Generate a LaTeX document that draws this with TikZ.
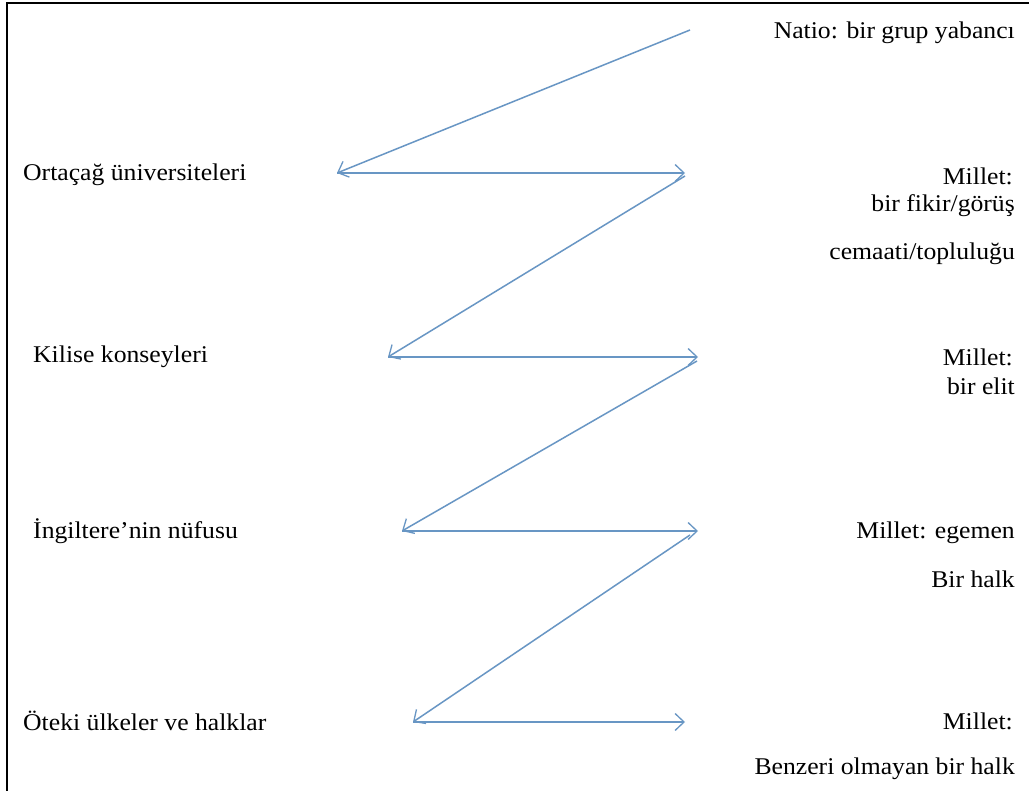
\documentclass[tikz,border=0pt]{standalone}
\usepackage{fontspec}
\setmainfont{Liberation Serif}
\usetikzlibrary{arrows.meta}
\definecolor{flow}{RGB}{104,150,196}
\newcommand{\wtxt}[1]{\scalebox{1.07}[1]{#1}}
\tikzset{
  lbl/.style={inner sep=0pt, font=\fontsize{24}{28}\selectfont},
  lleft/.style={lbl, anchor=west},
  lright/.style={lbl, anchor=east},
  flowline/.style={draw=flow, line width=1.5pt, -{Straight Barb[length=9pt,width=17pt,line width=1.3pt]}}
}
\begin{document}
\begin{tikzpicture}[x=1pt,y=-1pt]
\useasboundingbox (0,0) rectangle (1029,791);
\fill[white] (0,0) rectangle (1029,791);
% frame (top and left edges)
\draw[line width=2pt] (1029,3) -- (7,3) -- (7,791);

% left column
\node[lleft] (ort) at (23,175) {\wtxt{Ortaçağ üniversiteleri}};
\node[lleft] (kil) at (33,357) {\wtxt{Kilise konseyleri}};
\node[lleft] (ing) at (33,531) {\wtxt{İngiltere’nin nüfusu}};
\node[lleft] (ote) at (23,721) {\wtxt{Öteki ülkeler ve halklar}};

% right column
\node[lright] (nat) at (1015,33) {\wtxt{Natio: bir grup yabancı}};
\node[lright] (m1) at (1013,176) {\wtxt{Millet:}};
\node[lright] (m1b) at (1015,206) {\wtxt{bir fikir/görüş}};
\node[lright] (m1c) at (1015,254) {\wtxt{cemaati/topluluğu}};
\node[lright] (m2) at (1013,357) {\wtxt{Millet:}};
\node[lright] (m2b) at (1015,386) {\wtxt{bir elit}};
\node[lright] (m3) at (1015,533) {\wtxt{Millet: egemen}};
\node[lright] (m3b) at (1015,579) {\wtxt{Bir halk}};
\node[lright] (m4) at (1013,721) {\wtxt{Millet:}};
\node[lright] (m4b) at (1015,769) {\wtxt{Benzeri olmayan bir halk}};

% arrow end points
\coordinate (s0) at (690,30);
\coordinate (l1) at (337,173);
\coordinate (r1) at (685,173);
\coordinate (s1) at (685,176);
\coordinate (l2) at (388,357);
\coordinate (r2) at (698,357);
\coordinate (s2) at (697,361);
\coordinate (l3) at (402,531);
\coordinate (r3) at (698,531);
\coordinate (s3) at (690,535);
\coordinate (l4) at (413,722);
\coordinate (r4) at (685,722);

% zig-zag of arrows
\draw[flowline] (s0) -- (l1);
\draw[flowline] (l1) -- (r1);
\draw[flowline] (s1) -- (l2);
\draw[flowline] (l2) -- (r2);
\draw[flowline] (s2) -- (l3);
\draw[flowline] (l3) -- (r3);
\draw[flowline] (s3) -- (l4);
\draw[flowline] (l4) -- (r4);
\end{tikzpicture}
\end{document}
